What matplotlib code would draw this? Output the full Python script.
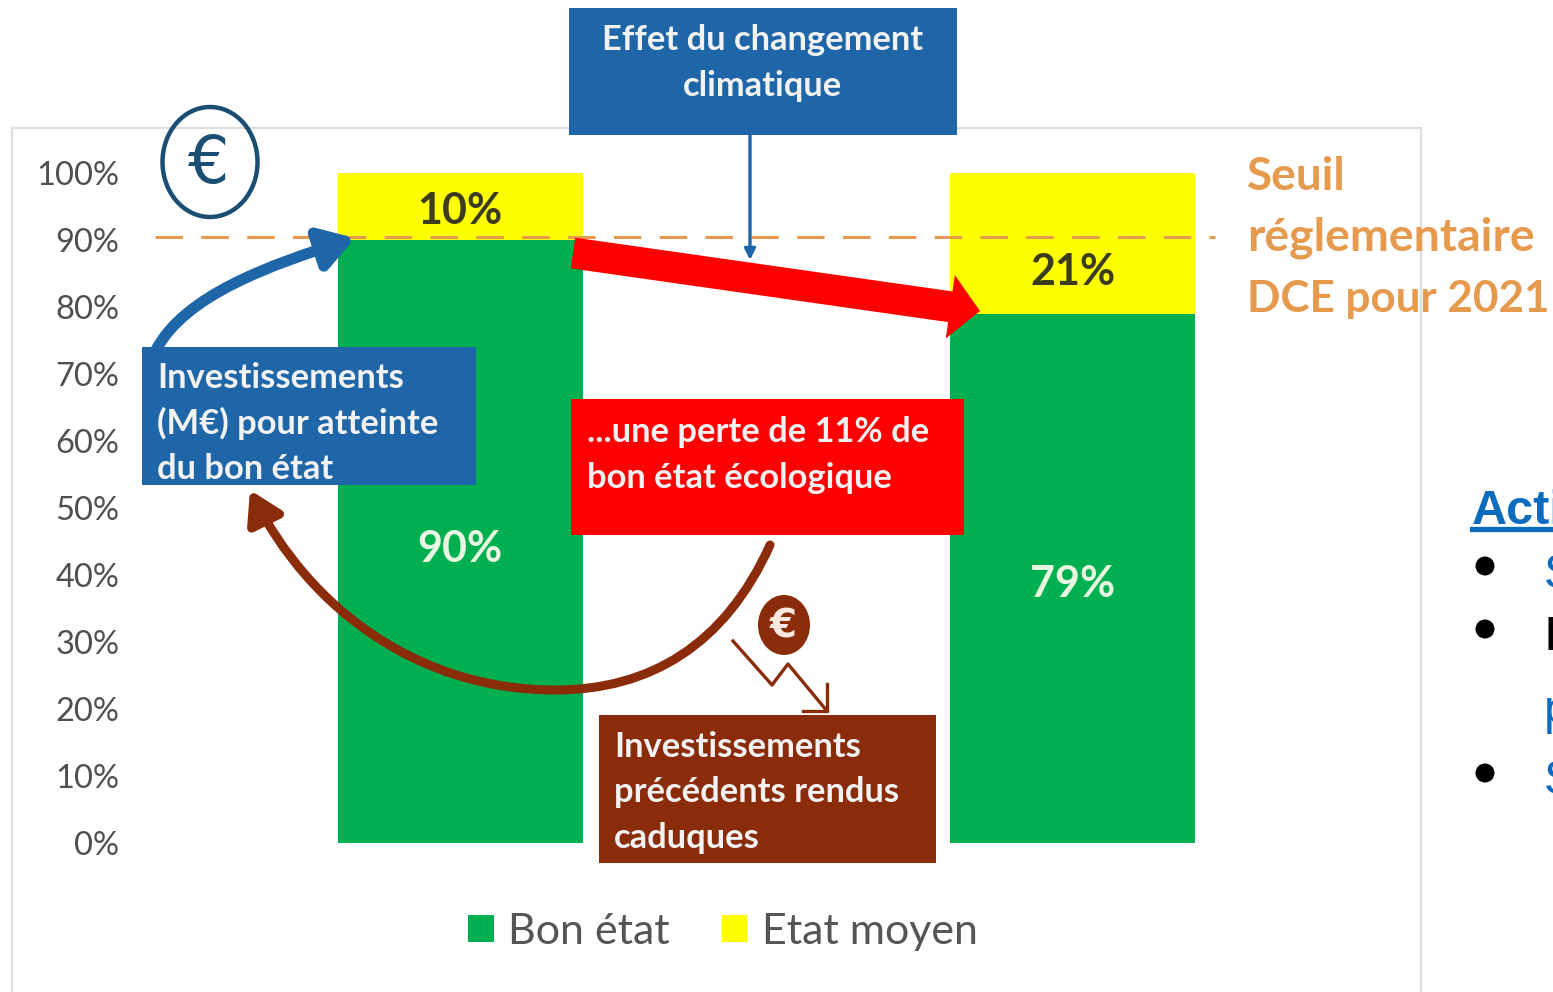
import matplotlib
matplotlib.use('Agg')
import matplotlib.pyplot as plt
from matplotlib.patches import Rectangle, Ellipse, FancyArrowPatch, FancyArrow
from matplotlib.path import Path
from matplotlib.transforms import blended_transform_factory

plt.rcParams['font.family'] = ['Lato', 'DejaVu Sans']

# donnees
categories = ['avant', 'apres']
bon_etat = [90, 79]
etat_moyen = [10, 21]
seuil = 90.4
ticks = [0, 10, 20, 30, 40, 50, 60, 70, 80, 90, 100]

# hauteur des etiquettes (pas au centre exact dans l'original)
pos_vert = [43.9, 38.6]
pos_jaune = [94.3, 85.2]

W, H = 1553, 992
BLEU = '#1F66A8'
BRUN = '#8A2C0A'
ORANGE = '#E59A4E'
VERT = '#00B050'
JAUNE = '#FFFF00'

fig = plt.figure(figsize=(W / 100, H / 100), dpi=100, facecolor='white')

# cadre du graphique
over0 = fig.add_axes([0, 0, 1, 1], zorder=0)
over0.set_xlim(0, W)
over0.set_ylim(H, 0)
over0.axis('off')
over0.add_patch(Rectangle((12, 128), 1409, 870, fc='white', ec='#DEDEDE', lw=1.6))

############################# BARRES ################################
ax = fig.add_axes([154 / W, 1 - 843 / H, 1225 / W, 670 / H], zorder=1)
ax.patch.set_alpha(0)
x = range(len(categories))
ax.bar(x, bon_etat, width=0.4, color=VERT, label='Bon état')
ax.bar(x, etat_moyen, width=0.4, bottom=bon_etat, color=JAUNE, label='Etat moyen')
ax.set_xlim(-0.5, 1.5)
ax.set_ylim(0, 100)
ax.set_xticks([])
ax.set_yticks(ticks)
ax.set_yticklabels([f'{t}%' for t in ticks], fontsize=23.5, color='#4F4F4F')
ax.tick_params(axis='y', length=0, pad=25)
for s in ax.spines.values():
    s.set_visible(False)

# etiquettes des barres
for i in x:
    ax.text(i, pos_vert[i], f'{bon_etat[i]}%', ha='center', va='center',
            fontsize=31, fontweight='bold', color='#E8F5E0')
    ax.text(i, pos_jaune[i], f'{etat_moyen[i]}%', ha='center', va='center',
            fontsize=31, fontweight='bold', color='#3B3B1E')

# seuil
ax.plot([155, 1215], [seuil, seuil], color=ORANGE, lw=2.2, dashes=(9, 6),
        transform=blended_transform_factory(over0.transData, ax.transData))

ax.legend(loc='center', bbox_to_anchor=(723 / W, 1 - 932 / H), bbox_transform=fig.transFigure,
          ncol=2, frameon=False, fontsize=31, handlelength=0.6, handleheight=0.6,
          handletextpad=0.33, columnspacing=1.2, labelcolor='#555555')

############################# ANNOTATIONS ################################
over = fig.add_axes([0, 0, 1, 1], zorder=2)
over.set_xlim(0, W)
over.set_ylim(H, 0)
over.patch.set_alpha(0)
over.axis('off')


def boite(x0, y0, x1, y1, couleur, lignes, tx, ty, pas):
    over.add_patch(Rectangle((x0, y0), x1 - x0, y1 - y0, fc=couleur, ec='none'))
    for k, l in enumerate(lignes):
        over.text(tx, ty + k * pas, l, color='#F2F2F2', fontsize=24.8, fontweight='bold',
                  ha='left', va='center')


# fleche rouge
over.add_patch(FancyArrow(573, 253, 407, 58, width=31, head_width=64, head_length=30,
                          length_includes_head=True, fc='#FF0000', ec='none'))

# changement climatique
over.add_patch(Rectangle((569, 8), 388, 127, fc=BLEU, ec='none'))
over.text(763, 40, 'Effet du changement', color='#F2F2F2', fontsize=24.8, fontweight='bold', ha='center', va='center')
over.text(763, 86, 'climatique', color='#F2F2F2', fontsize=24.8, fontweight='bold', ha='center', va='center')
over.add_patch(FancyArrowPatch((750, 135), (750, 260), arrowstyle='-|>', mutation_scale=16, color=BLEU, lw=2.4,
                               shrinkA=0, shrinkB=0))

boite(142, 347, 476, 485, BLEU, ['Investissements', '(M€) pour atteinte', 'du bon état'], 157, 378, 45.5)
boite(571, 399, 964, 535, '#FF0000', ['...une perte de 11% de', 'bon état écologique'], 587, 432, 45.5)
boite(599, 715, 936, 863, BRUN, ['Investissements', 'précédents rendus', 'caduques'], 614, 747, 45.5)

# fleche bleue courbe
chemin = Path([(156, 350), (185, 295), (270, 265), (355, 238)], [Path.MOVETO, Path.CURVE4, Path.CURVE4, Path.CURVE4])
over.add_patch(FancyArrowPatch(path=chemin, arrowstyle='-|>,head_length=0.8,head_width=0.5', mutation_scale=25,
                               color=BLEU, lw=8, shrinkA=0, shrinkB=0))

# fleche brune courbe
chemin2 = Path([(770, 545), (725, 645), (650, 690), (555, 690), (420, 690), (310, 610), (250, 490)],
               [Path.MOVETO, Path.CURVE4, Path.CURVE4, Path.CURVE4, Path.CURVE4, Path.CURVE4, Path.CURVE4])
over.add_patch(FancyArrowPatch(path=chemin2, arrowstyle='-|>,head_length=0.75,head_width=0.45', mutation_scale=25,
                               color=BRUN, lw=6.5, shrinkA=0, shrinkB=0))

# euro du haut
over.add_patch(Ellipse((210, 162), 95, 110, fc='none', ec='#1A4E73', lw=3.2))
over.text(208, 165, '€', color='#1A4E73', fontsize=47, ha='center', va='center', family='DejaVu Sans')

# euro brun et petite fleche
over.add_patch(Ellipse((784, 625), 52, 60, fc=BRUN, ec='none'))
over.text(783, 627, '€', color='#FBE9DF', fontsize=28, fontweight='bold', ha='center', va='center', family='DejaVu Sans')
over.plot([733, 772, 788, 827], [641, 685, 664, 711], color=BRUN, lw=2.4)
over.plot([803, 827, 827], [711, 711, 684], color=BRUN, lw=2.4)

# seuil texte
for t, yy, fs in zip(['Seuil', 'réglementaire', 'DCE pour 2021'], [177, 238, 299], [33, 33.4, 31.7]):
    over.text(1247, yy, t, color=ORANGE, fontsize=fs, fontweight='bold', ha='left', va='center')

############################# TEXTE DE DROITE ################################
over.text(1472, 512, 'Acti', color='#0B6BBF', fontsize=35, fontweight='bold', family='Liberation Sans',
          ha='left', va='center', clip_on=True)
over.plot([1472, 1553], [529, 529], color='#0B6BBF', lw=3.8, clip_on=True)
for yy in [566, 629, 773]:
    over.add_patch(Ellipse((1485, yy), 19, 19, fc='black', ec='none'))
for t, yy, c in [('S', 575, '#0B6BBF'), ('I', 637, 'black'), ('p', 712, '#0B6BBF'), ('S', 781, '#0B6BBF')]:
    over.text(1544, yy, t, color=c, fontsize=35, family='Liberation Sans', ha='left', va='center', clip_on=True)

fig.savefig('out.png', dpi=100)
